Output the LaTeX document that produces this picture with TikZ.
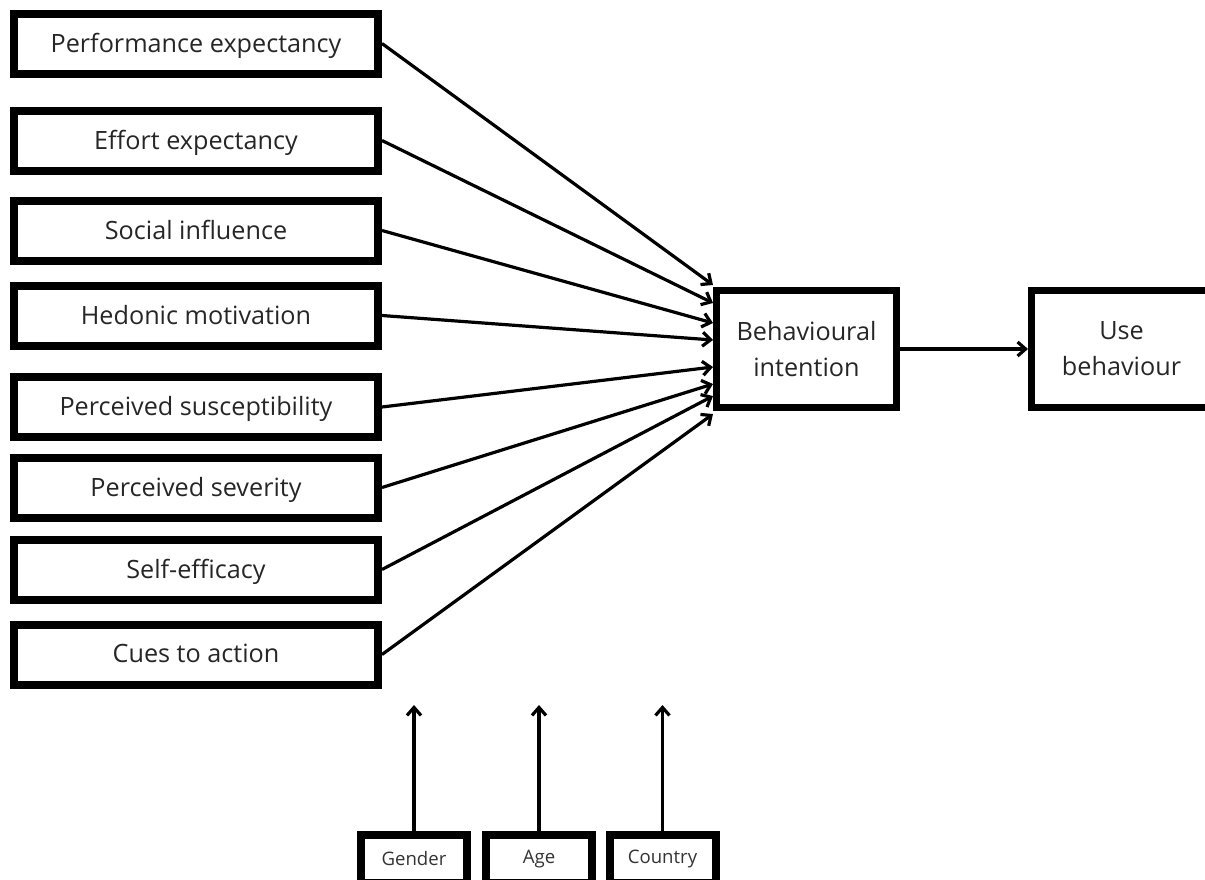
\documentclass[tikz,border=0pt]{standalone}
\usepackage{fontspec}
\setmainfont{Open Sans}
\usetikzlibrary{arrows.meta}

\begin{document}
\begin{tikzpicture}[x=0.5pt, y=-0.5pt,
  factor/.style = {draw, line width=4pt, inner sep=0pt, minimum width=182pt, minimum height=30pt, font=\fontsize{12.6}{18}\selectfont, text=black!85, text depth=1pt},
  target/.style = {draw, line width=3.5pt, inner sep=0pt, minimum width=90pt, minimum height=58.5pt, align=center, font=\fontsize{12.6}{18}\selectfont, text=black!85},
  moder/.style  = {draw, line width=4pt, inner sep=0pt, minimum width=53pt, minimum height=24pt, font=\fontsize{9.3}{11}\selectfont, text=black!80},
  arr/.style    = {line width=1.6pt, -{Straight Barb[length=4pt, width=7pt, line width=1.6pt]}}]
\useasboundingbox (0,0) rectangle (1205,879);
% determinants
\node[factor] (pe) at (196,43.5)  {Performance expectancy};
\node[factor] (ee) at (196,140.5) {Effort expectancy};
\node[factor] (si) at (196,230.5) {Social influence};
\node[factor] (hm) at (196,315.5) {Hedonic motivation};
\node[factor] (ps) at (196,407)   {Perceived susceptibility};
\node[factor] (pv) at (196,487.5) {Perceived severity};
\node[factor] (se) at (196,569.5) {Self-efficacy};
\node[factor] (ca) at (196,654.5) {Cues to action};
% intention and use
\node[target] (bi) at (806.5,349)  {Behavioural\\intention};
\node[target] (ub) at (1121.5,349) {Use\\behaviour};
% moderators
\node[moder] (gen) at (414,859)   {Gender};
\node[moder] (age) at (539,859)   {Age};
\node[moder] (cty) at (662.5,859) {Country};
\coordinate (gentip) at (414,705);
\coordinate (agetip) at (539,705);
\coordinate (ctytip) at (662.5,705);
\draw[arr] (pe.east) -- ([yshift=32pt]bi.west);
\draw[arr] (ee.east) -- ([yshift=23pt]bi.west);
\draw[arr] (si.east) -- ([yshift=13pt]bi.west);
\draw[arr] (hm.east) -- ([yshift=4.5pt]bi.west);
\draw[arr] (ps.east) -- ([yshift=-9pt]bi.west);
\draw[arr] (pv.east) -- ([yshift=-17.5pt]bi.west);
\draw[arr] (se.east) -- ([yshift=-23.5pt]bi.west);
\draw[arr] (ca.east) -- ([yshift=-32.5pt]bi.west);
\draw[arr] (bi) -- (ub);
\draw[arr] (gen) -- (gentip);
\draw[arr] (age) -- (agetip);
\draw[arr] (cty) -- (ctytip);
\end{tikzpicture}
\end{document}
